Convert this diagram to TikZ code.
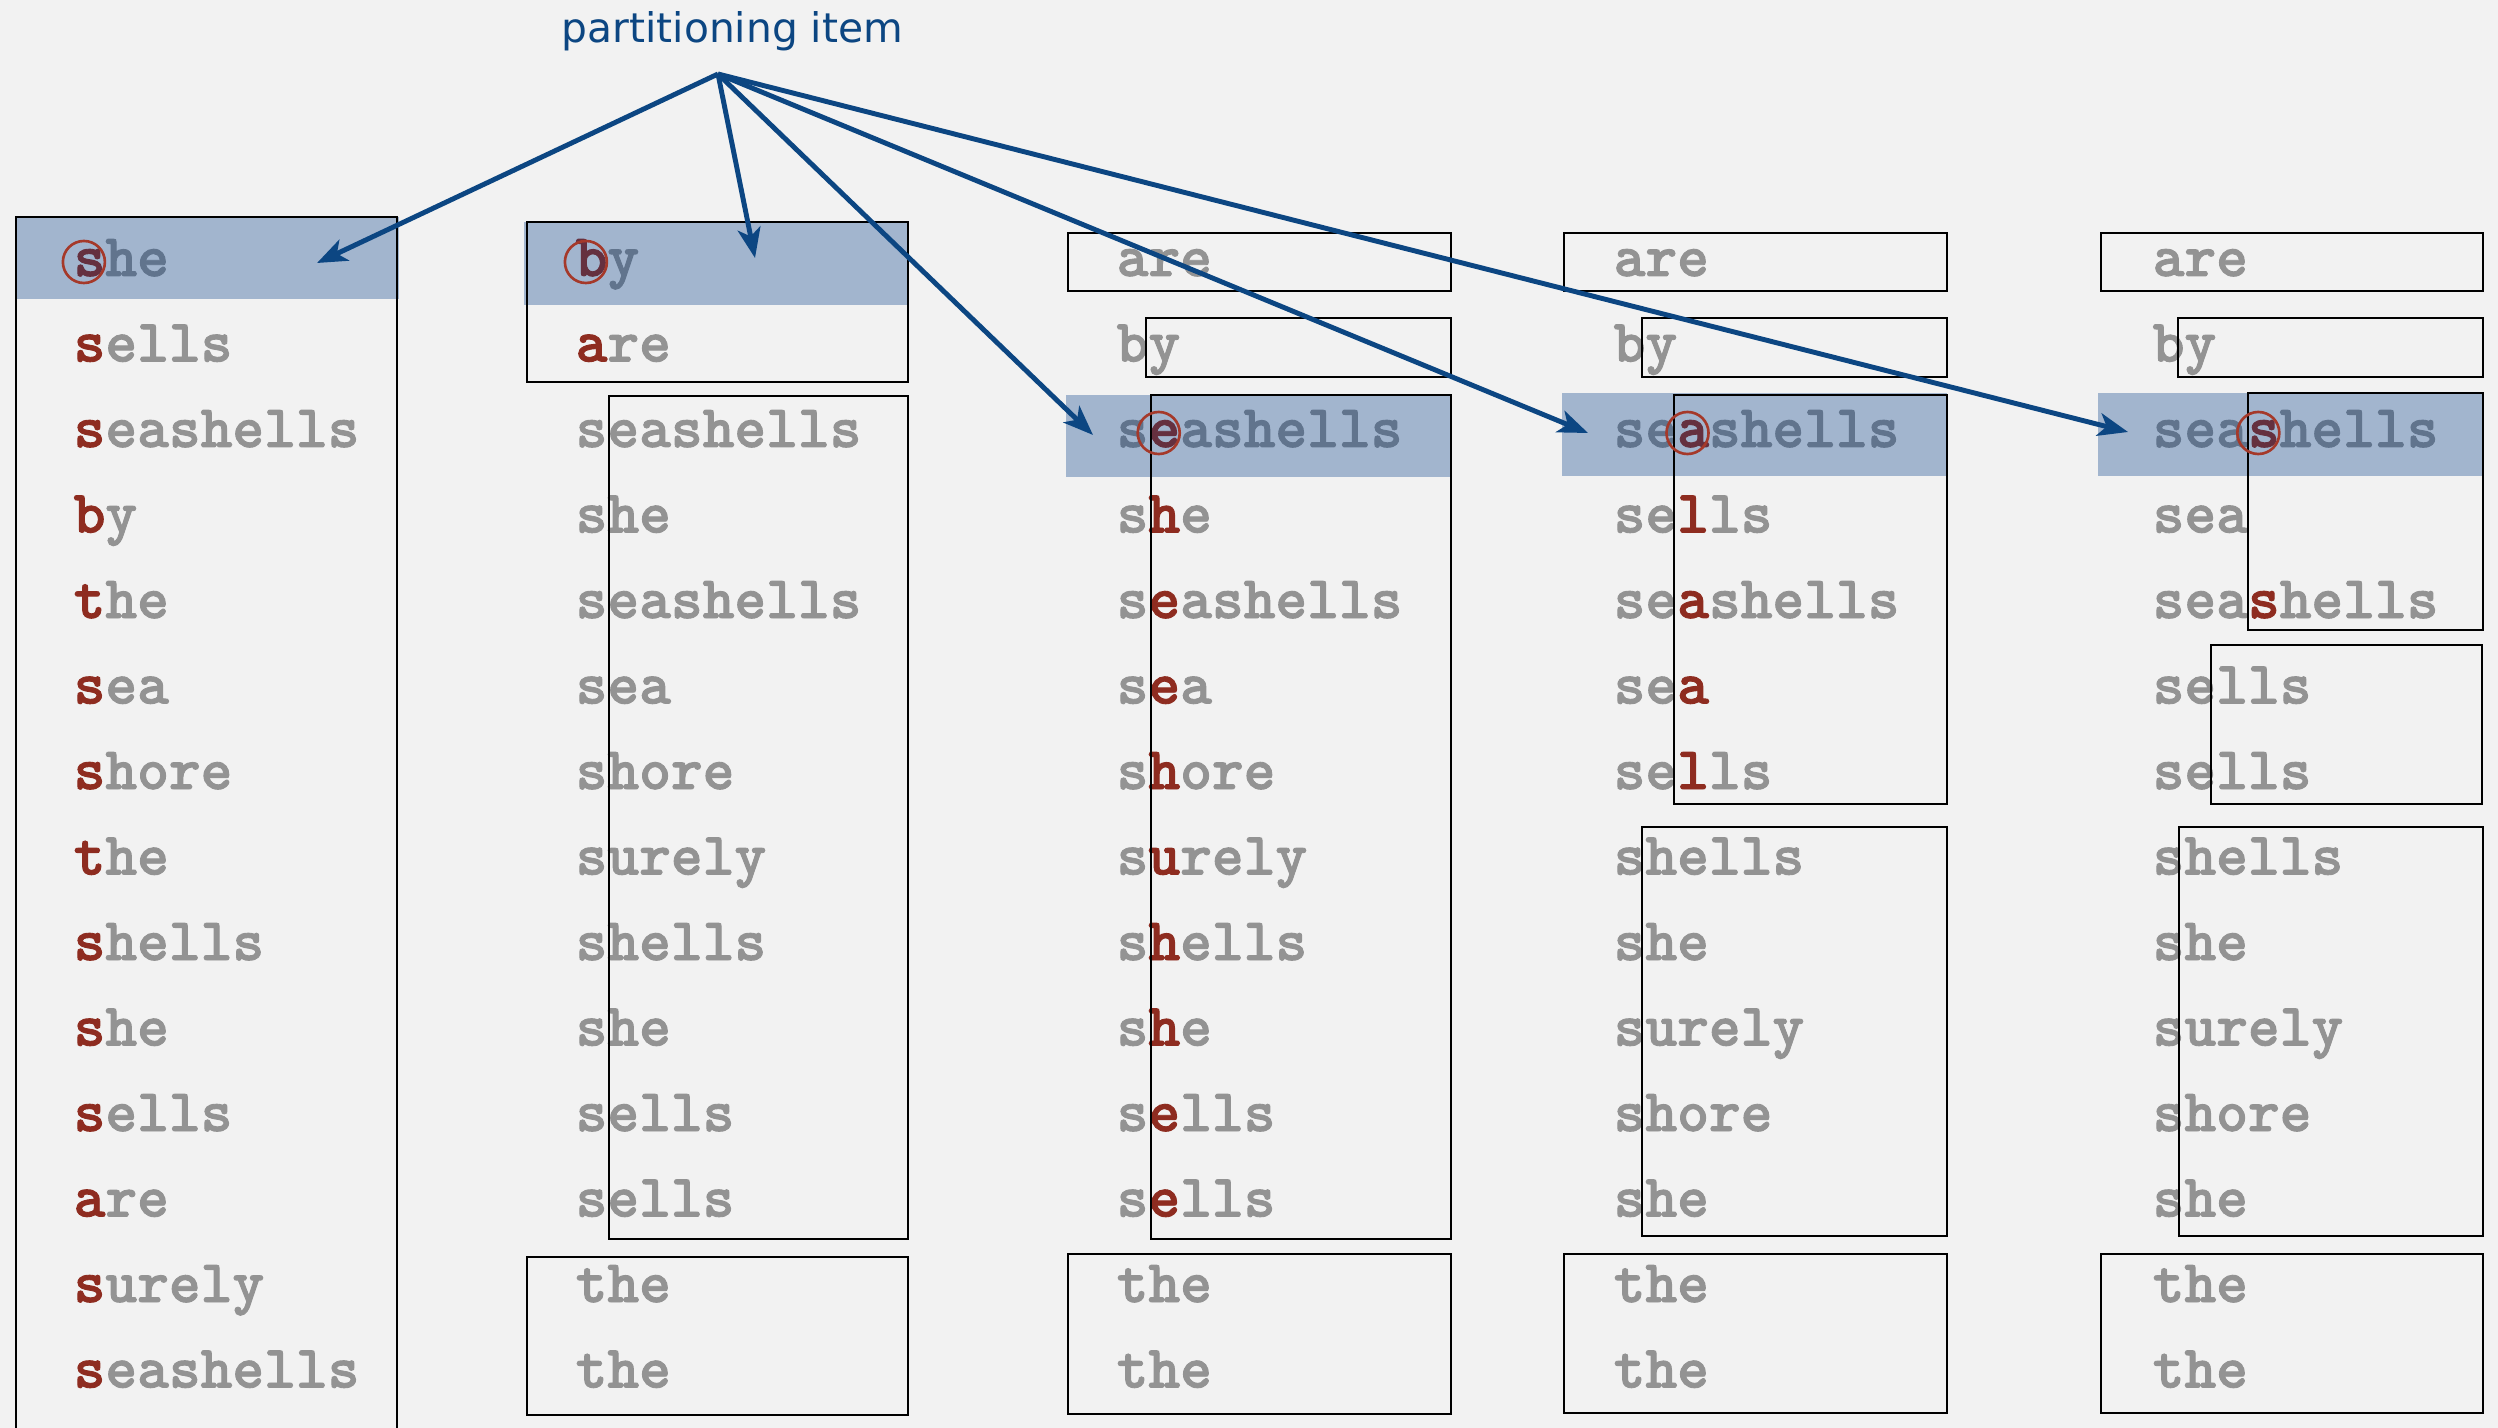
\documentclass[tikz,border=0pt]{standalone}
\usepackage{fontspec}
\newfontfamily\lblfont{DejaVu Sans}
\newfontfamily\wordfont{lmmonolt10-bold.otf}[FakeBold=1.5]
\usetikzlibrary{arrows.meta}
\definecolor{bgc}{HTML}{F2F2F2}
\definecolor{grayc}{HTML}{939393}
\definecolor{redc}{HTML}{8E2C20}
\definecolor{hlc}{HTML}{A2B5CE}
\definecolor{hlgray}{HTML}{61748D}
\definecolor{hlred}{HTML}{65303F}
\definecolor{bluec}{HTML}{0C4682}
\definecolor{circc}{HTML}{A5392A}
\tikzset{
  wordtxt/.style={anchor=base west, inner sep=0pt, text=grayc,
    font=\wordfont\fontsize{17.2}{20}\selectfont},
  hltxt/.style={wordtxt, text=hlgray},
  boxline/.style={draw=black, line width=0.75pt},
  hlfill/.style={fill=hlc},
  circmark/.style={draw=circc, line width=0.75pt, circle, minimum size=0.42cm, inner sep=0pt},
  parr/.style={draw=bluec, line width=1.4pt, -{Stealth[length=0.3cm, width=0.23cm, inset=0.08cm]}},
}
% text rows: base x is shifted by 3 px against the circle base
\newcommand\wordrow[6]{\node[wordtxt] (#1) at ({#2+3},{276+85.5*#3}) {#4\textcolor{redc}{#5}#6};}
\newcommand\hlrow[6]{\node[hltxt] (#1) at ({#2+3},{276+85.5*#3}) {#4\textcolor{hlred}{#5}#6};}
\newcommand\markat[4]{\node[circmark] (#1) at ({#2+31.8*(#4+0.5)-2},{273+85.5*#3-11}) {};}
\begin{document}
\begin{tikzpicture}[x=0.01cm, y=-0.01cm]
\fill[bgc] (0,0) rectangle (2498,1428);
\useasboundingbox (0,0) rectangle (2498,1428);

% highlight bars
\fill[hlfill] (16,217) rectangle (399,299);
\fill[hlfill] (524,222) rectangle (908,305);
\fill[hlfill] (1066,395) rectangle (1451,477);
\fill[hlfill] (1562,393) rectangle (1947,476);
\fill[hlfill] (2098,393) rectangle (2483,476);

% column 1
\hlrow{a0}{70}{0}{}{s}{he}
\wordrow{a1}{70}{1}{}{s}{ells}
\wordrow{a2}{70}{2}{}{s}{eashells}
\wordrow{a3}{70}{3}{}{b}{y}
\wordrow{a4}{70}{4}{}{t}{he}
\wordrow{a5}{70}{5}{}{s}{ea}
\wordrow{a6}{70}{6}{}{s}{hore}
\wordrow{a7}{70}{7}{}{t}{he}
\wordrow{a8}{70}{8}{}{s}{hells}
\wordrow{a9}{70}{9}{}{s}{he}
\wordrow{a10}{70}{10}{}{s}{ells}
\wordrow{a11}{70}{11}{}{a}{re}
\wordrow{a12}{70}{12}{}{s}{urely}
\wordrow{a13}{70}{13}{}{s}{eashells}

% column 2
\hlrow{b0}{572}{0}{}{b}{y}
\wordrow{b1}{572}{1}{}{a}{re}
\wordrow{b2}{572}{2}{seashells}{}{}
\wordrow{b3}{572}{3}{she}{}{}
\wordrow{b4}{572}{4}{seashells}{}{}
\wordrow{b5}{572}{5}{sea}{}{}
\wordrow{b6}{572}{6}{shore}{}{}
\wordrow{b7}{572}{7}{surely}{}{}
\wordrow{b8}{572}{8}{shells}{}{}
\wordrow{b9}{572}{9}{she}{}{}
\wordrow{b10}{572}{10}{sells}{}{}
\wordrow{b11}{572}{11}{sells}{}{}
\wordrow{b12}{572}{12}{the}{}{}
\wordrow{b13}{572}{13}{the}{}{}

% column 3
\wordrow{c0}{1113}{0}{are}{}{}
\wordrow{c1}{1113}{1}{by}{}{}
\hlrow{c2}{1113}{2}{s}{e}{ashells}
\wordrow{c3}{1113}{3}{s}{h}{e}
\wordrow{c4}{1113}{4}{s}{e}{ashells}
\wordrow{c5}{1113}{5}{s}{e}{a}
\wordrow{c6}{1113}{6}{s}{h}{ore}
\wordrow{c7}{1113}{7}{s}{u}{rely}
\wordrow{c8}{1113}{8}{s}{h}{ells}
\wordrow{c9}{1113}{9}{s}{h}{e}
\wordrow{c10}{1113}{10}{s}{e}{lls}
\wordrow{c11}{1113}{11}{s}{e}{lls}
\wordrow{c12}{1113}{12}{the}{}{}
\wordrow{c13}{1113}{13}{the}{}{}

% column 4
\wordrow{d0}{1610}{0}{are}{}{}
\wordrow{d1}{1610}{1}{by}{}{}
\hlrow{d2}{1610}{2}{se}{a}{shells}
\wordrow{d3}{1610}{3}{se}{l}{ls}
\wordrow{d4}{1610}{4}{se}{a}{shells}
\wordrow{d5}{1610}{5}{se}{a}{}
\wordrow{d6}{1610}{6}{se}{l}{ls}
\wordrow{d7}{1610}{7}{shells}{}{}
\wordrow{d8}{1610}{8}{she}{}{}
\wordrow{d9}{1610}{9}{surely}{}{}
\wordrow{d10}{1610}{10}{shore}{}{}
\wordrow{d11}{1610}{11}{she}{}{}
\wordrow{d12}{1610}{12}{the}{}{}
\wordrow{d13}{1610}{13}{the}{}{}

% column 5
\wordrow{e0}{2149}{0}{are}{}{}
\wordrow{e1}{2149}{1}{by}{}{}
\hlrow{e2}{2149}{2}{sea}{s}{hells}
\wordrow{e3}{2149}{3}{sea}{}{}
\wordrow{e4}{2149}{4}{sea}{s}{hells}
\wordrow{e5}{2149}{5}{sells}{}{}
\wordrow{e6}{2149}{6}{sells}{}{}
\wordrow{e7}{2149}{7}{shells}{}{}
\wordrow{e8}{2149}{8}{she}{}{}
\wordrow{e9}{2149}{9}{surely}{}{}
\wordrow{e10}{2149}{10}{shore}{}{}
\wordrow{e11}{2149}{11}{she}{}{}
\wordrow{e12}{2149}{12}{the}{}{}
\wordrow{e13}{2149}{13}{the}{}{}

% boxes
\draw[boxline] (16,217) rectangle (397,1460);
\draw[boxline] (527,222) rectangle (908,382);
\draw[boxline] (609,396) rectangle (908,1239);
\draw[boxline] (527,1257) rectangle (908,1415);
\draw[boxline] (1068,233) rectangle (1451,291);
\draw[boxline] (1146,318) rectangle (1451,377);
\draw[boxline] (1151,395) rectangle (1451,1239);
\draw[boxline] (1068,1254) rectangle (1451,1414);
\draw[boxline] (1564,233) rectangle (1947,291);
\draw[boxline] (1642,318) rectangle (1947,377);
\draw[boxline] (1674,395) rectangle (1947,804);
\draw[boxline] (1642,827) rectangle (1947,1236);
\draw[boxline] (1564,1254) rectangle (1947,1413);
\draw[boxline] (2101,233) rectangle (2483,291);
\draw[boxline] (2178,318) rectangle (2483,377);
\draw[boxline] (2248,393) rectangle (2483,630);
\draw[boxline] (2211,645) rectangle (2482,804);
\draw[boxline] (2179,827) rectangle (2483,1236);
\draw[boxline] (2101,1254) rectangle (2483,1413);

% circled partitioning characters
\markat{k1}{70}{0}{0}
\markat{k2}{572}{0}{0}
\markat{k3}{1113}{2}{1}
\markat{k4}{1610}{2}{2}
\markat{k5}{2149}{2}{3}

% label and arrows
\node[anchor=base west, inner sep=0pt, text=bluec, font=\lblfont\fontsize{11.6}{14}\selectfont] (lbl) at (561,43) {partitioning item};
\coordinate (apex) at (718,74);
\coordinate (t1) at (317,263);
\coordinate (t2) at (755,258);
\coordinate (t3) at (1093,435);
\coordinate (t4) at (1588,433);
\coordinate (t5) at (2128,432);
\draw[parr] (apex) -- (t1);
\draw[parr] (apex) -- (t2);
\draw[parr] (apex) -- (t3);
\draw[parr] (apex) -- (t4);
\draw[parr] (apex) -- (t5);
\end{tikzpicture}
\end{document}
